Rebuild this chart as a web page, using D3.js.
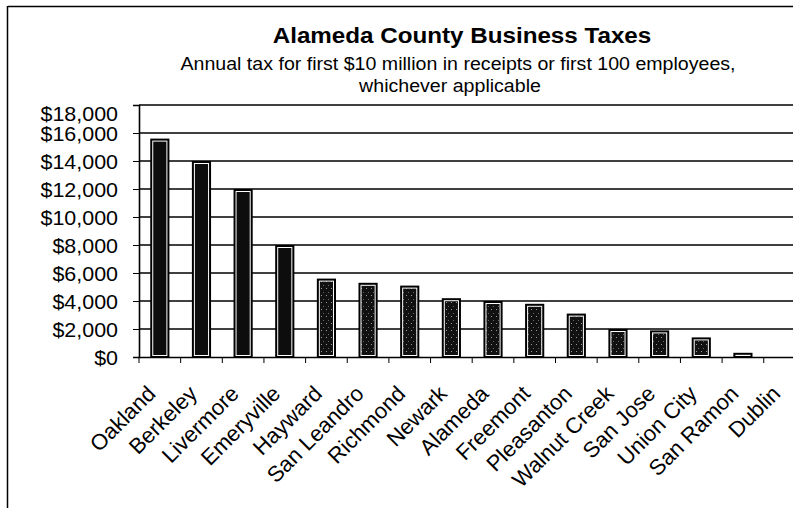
<!DOCTYPE html>
<html>
<head>
<meta charset="utf-8">
<script src="https://cdn.jsdelivr.net/npm/d3@7"></script>
<style>
  body { margin: 0; background: #fff; }
  svg { display: block; font-family: Arial, "Liberation Sans", sans-serif; }
</style>
</head>
<body>
<div id="chart"></div>
<script>
// Chart data
const cities = ["Oakland", "Berkeley", "Livermore", "Emeryville", "Hayward", "San Leandro",
  "Richmond", "Newark", "Alameda", "Freemont", "Pleasanton", "Walnut Creek", "San Jose",
  "Union City", "San Ramon", "Dublin"];
const taxes = [15600, 14000, 12000, 8000, 5600, 5300, 5100, 4200, 4000, 3800, 3100,
  2000, 1900, 1400, 300, 0];
const yTicks = [0, 2000, 4000, 6000, 8000, 10000, 12000, 14000, 16000, 18000];

const width = 793, height = 508;
const margin = { left: 139, top: 105, bottom: 357 };
const bandW = 41.65;
// the scanned original is a bit wider than tall, text included
const sx = 1.1;

const svg = d3.select('#chart')
  .append('svg')
  .attr('width', width)
  .attr('height', height);

// Halftone-ish fill for the lighter bars
const defs = svg.append('defs');
const pat = defs.append('pattern')
  .attr('id', 'dots')
  .attr('width', 5).attr('height', 7)
  .attr('patternUnits', 'userSpaceOnUse');
pat.append('rect').attr('width', 5).attr('height', 7).attr('fill', '#111');
pat.append('rect').attr('x', 1).attr('y', 1).attr('width', 1).attr('height', 1).attr('fill', '#999');
pat.append('rect').attr('x', 3).attr('y', 5).attr('width', 1).attr('height', 1).attr('fill', '#666');

// Outer frame (only top and left visible)
svg.append('line')
  .attr('x1', 8).attr('x2', width).attr('y1', 6.5).attr('y2', 6.5)
  .attr('stroke', '#000').attr('stroke-width', 1.5);
svg.append('line')
  .attr('x1', 7.5).attr('x2', 7.5).attr('y1', 6).attr('y2', height)
  .attr('stroke', '#000').attr('stroke-width', 1.5);

const x = d3.scaleBand()
  .domain(cities)
  .range([margin.left, margin.left + bandW * cities.length])
  .paddingInner(0.54)
  .paddingOuter(0.27);

const y = d3.scaleLinear()
  .domain([0, 18000])
  .range([margin.bottom, margin.top]);

// Gridlines
svg.append('g')
  .selectAll('line')
  .data(yTicks.filter(d => d > 0))
  .join('line')
  .attr('x1', margin.left).attr('x2', width)
  .attr('y1', d => y(d)).attr('y2', d => y(d))
  .attr('stroke', '#000').attr('stroke-width', 1.6);

// Y axis
const yAxis = svg.append('g')
  .attr('transform', `translate(${margin.left},0)`)
  .call(d3.axisLeft(y).tickValues(yTicks).tickSize(6).tickFormat(''));
yAxis.select('.domain').attr('stroke-width', 1.6);
yAxis.selectAll('.tick line').attr('stroke-width', 1);

// Y labels, the top one sits lower than its gridline as in the original
svg.append('g')
  .selectAll('text')
  .data(yTicks)
  .join('text')
  .attr('transform', d => `translate(118,${y(d) + (d === 18000 ? 9 : 1.5)}) scale(${sx},1)`)
  .attr('text-anchor', 'end')
  .attr('dy', '0.35em')
  .attr('font-size', 19.5)
  .attr('fill', '#000')
  .text(d => '$' + d3.format(',')(d));

// Bars
const bars = svg.append('g')
  .selectAll('g')
  .data(cities.map((c, i) => ({ city: c, value: taxes[i] })))
  .join('g');

bars.filter(d => d.value > 0).append('rect')
  .attr('x', d => x(d.city))
  .attr('y', d => y(d.value))
  .attr('width', x.bandwidth())
  .attr('height', d => y(0) - y(d.value))
  .attr('fill', '#000');

bars.filter(d => d.value > 0).append('rect')
  .attr('x', d => x(d.city) + 2.5)
  .attr('y', d => y(d.value) + 2.5)
  .attr('width', x.bandwidth() - 5)
  .attr('height', d => Math.max(0, y(0) - y(d.value) - 4))
  .attr('fill', (d, i) => i < 4 ? '#0d0d0d' : 'url(#dots)')
  .attr('stroke', '#fff')
  .attr('stroke-width', 1);

// X axis
const xAxis = svg.append('g')
  .attr('transform', `translate(0,${margin.bottom})`)
  .call(d3.axisBottom(x).tickSize(0).tickFormat(''));
xAxis.select('.domain').attr('stroke-width', 1.6);

// Tick marks between categories
svg.append('g')
  .selectAll('line')
  .data(d3.range(cities.length + 1))
  .join('line')
  .attr('x1', i => margin.left + i * bandW)
  .attr('x2', i => margin.left + i * bandW)
  .attr('y1', margin.bottom).attr('y2', margin.bottom + 6)
  .attr('stroke', '#000').attr('stroke-width', 1);

// Rotated category labels
svg.append('g')
  .selectAll('text')
  .data(cities)
  .join('text')
  .attr('transform', d => `translate(${x(d) + x.bandwidth() / 2 - 3},${margin.bottom + 38}) rotate(-45)`)
  .attr('text-anchor', 'end')
  .attr('font-size', 22)
  .attr('fill', '#000')
  .text(d => d);

// Titles
svg.append('text')
  .attr('transform', `translate(462,43) scale(${sx},1)`)
  .attr('text-anchor', 'middle')
  .attr('font-size', 22).attr('font-weight', 'bold')
  .text('Alameda County Business Taxes');

svg.append('text')
  .attr('transform', `translate(458,70) scale(1.12,1)`)
  .attr('text-anchor', 'middle')
  .attr('font-size', 17.5)
  .text('Annual tax for first $10 million in receipts or first 100 employees,');

svg.append('text')
  .attr('transform', `translate(450,92) scale(1.12,1)`)
  .attr('text-anchor', 'middle')
  .attr('font-size', 17.5)
  .text('whichever applicable');
</script>
</body>
</html>
